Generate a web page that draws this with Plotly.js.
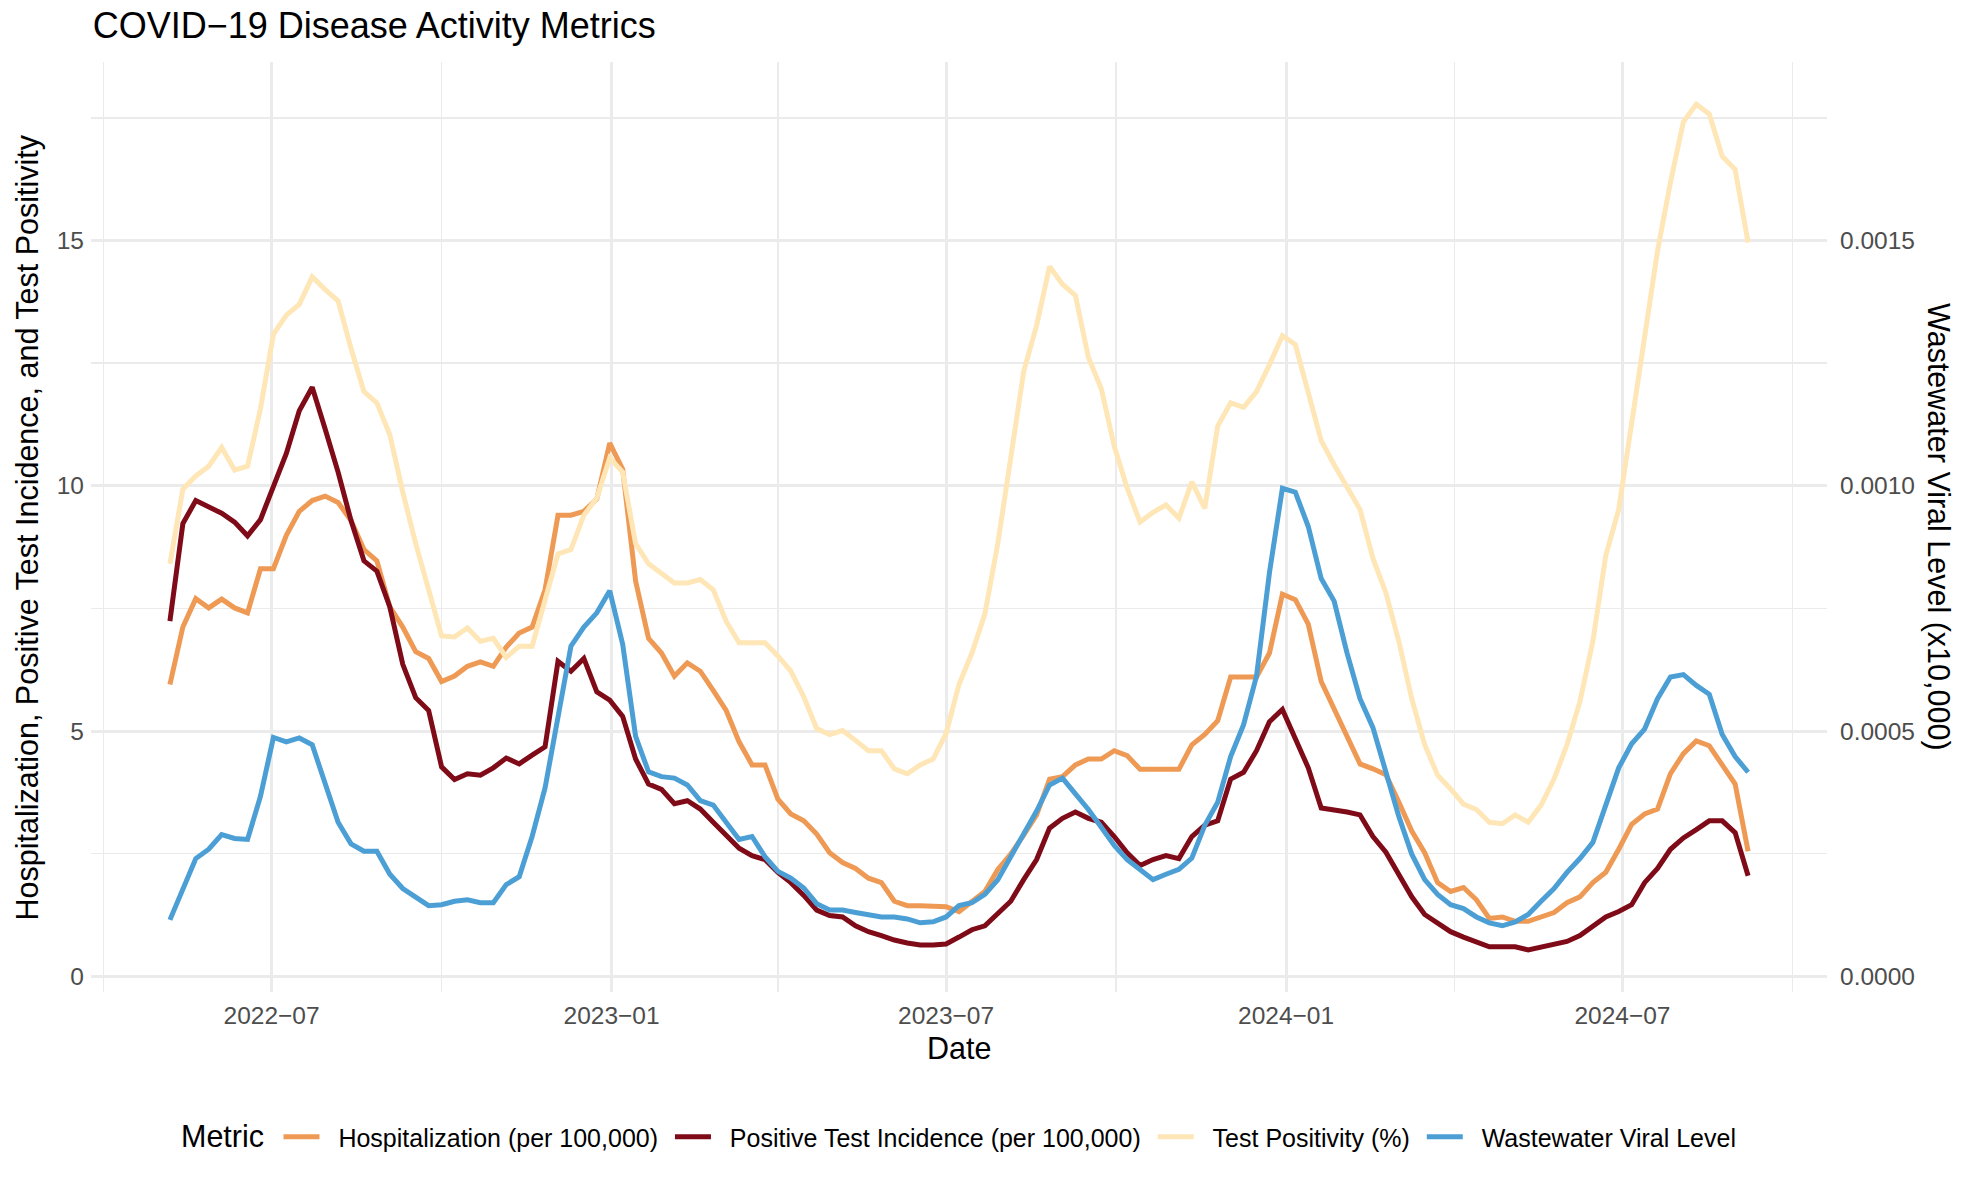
<!DOCTYPE html>
<html>
<head>
<meta charset="utf-8">
<script src="https://cdn.plot.ly/plotly-3.0.1.min.js"></script>
<style>
html, body { margin: 0; padding: 0; background: #ffffff; }
#chart { width: 1964px; height: 1189px; }
</style>
</head>
<body>
<div id="chart"></div>
<script>
// Weekly observation dates
const dates = [
 '2022-05-07','2022-05-14','2022-05-21','2022-05-28','2022-06-04','2022-06-11','2022-06-18','2022-06-25',
 '2022-07-02','2022-07-09','2022-07-16','2022-07-23','2022-07-30','2022-08-06','2022-08-13','2022-08-20','2022-08-27',
 '2022-09-03','2022-09-10','2022-09-17','2022-09-24','2022-10-01','2022-10-08','2022-10-15','2022-10-22','2022-10-29',
 '2022-11-05','2022-11-12','2022-11-19','2022-11-26','2022-12-03','2022-12-10','2022-12-17','2022-12-24','2022-12-31',
 '2023-01-07','2023-01-14','2023-01-21','2023-01-28','2023-02-04','2023-02-11','2023-02-18','2023-02-25',
 '2023-03-04','2023-03-11','2023-03-18','2023-03-25','2023-04-01','2023-04-08','2023-04-15','2023-04-22','2023-04-29',
 '2023-05-06','2023-05-13','2023-05-20','2023-05-27','2023-06-03','2023-06-10','2023-06-17','2023-06-24',
 '2023-07-01','2023-07-08','2023-07-15','2023-07-22','2023-07-29','2023-08-05','2023-08-12','2023-08-19','2023-08-26',
 '2023-09-02','2023-09-09','2023-09-16','2023-09-23','2023-09-30','2023-10-07','2023-10-14','2023-10-21','2023-10-28',
 '2023-11-04','2023-11-11','2023-11-18','2023-11-25','2023-12-02','2023-12-09','2023-12-16','2023-12-23','2023-12-30',
 '2024-01-06','2024-01-13','2024-01-20','2024-01-27','2024-02-03','2024-02-10','2024-02-17','2024-02-24',
 '2024-03-02','2024-03-09','2024-03-16','2024-03-23','2024-03-30','2024-04-06','2024-04-13','2024-04-20','2024-04-27',
 '2024-05-04','2024-05-11','2024-05-18','2024-05-25','2024-06-01','2024-06-08','2024-06-15','2024-06-22','2024-06-29',
 '2024-07-06','2024-07-13','2024-07-20','2024-07-27','2024-08-03','2024-08-10','2024-08-17','2024-08-24','2024-08-31',
 '2024-09-07'
];

// Hospitalization (per 100,000)
const hospitalization = [
 5.95, 7.12, 7.70, 7.51, 7.69, 7.51, 7.41, 8.31, 8.31, 8.99, 9.48, 9.70, 9.79, 9.66, 9.29, 8.70, 8.47, 7.53, 7.12, 6.62, 6.48, 6.01, 6.12, 6.32, 6.41,
 6.32, 6.71, 7.00, 7.12, 7.88, 9.40, 9.40, 9.48, 9.73, 10.87, 10.34, 8.06, 6.89, 6.59, 6.12, 6.39, 6.22, 5.83, 5.42, 4.78, 4.31, 4.31, 3.61, 3.31, 3.17,
 2.90, 2.52, 2.32, 2.20, 2.00, 1.91, 1.53, 1.44, 1.44, 1.44, 1.42, 1.32, 1.52, 1.73, 2.18, 2.49, 2.88, 3.29, 4.02, 4.07, 4.31, 4.43, 4.43, 4.60, 4.50,
 4.22, 4.22, 4.22, 4.22, 4.72, 4.93, 5.21, 6.10, 6.10, 6.10, 6.59, 7.79, 7.68, 7.18, 6.01, 5.46, 4.87, 4.33, 4.23, 4.11, 3.55, 2.96, 2.52, 1.91, 1.73,
 1.81, 1.56, 1.18, 1.21, 1.12, 1.12, 1.21, 1.30, 1.50, 1.62, 1.91, 2.12, 2.59, 3.10, 3.31, 3.41, 4.13, 4.54, 4.80, 4.70, 4.31, 3.92, 2.55
];

// Positive Test Incidence (per 100,000)
const positiveIncidence = [
 7.24, 9.23, 9.70, 9.58, 9.44, 9.26, 8.98, 9.31, 9.99, 10.66, 11.53, 12.01, 11.16, 10.28, 9.29, 8.47, 8.26, 7.53, 6.36, 5.68, 5.42, 4.27, 4.01, 4.13, 4.10,
 4.25, 4.45, 4.33, 4.51, 4.68, 6.42, 6.22, 6.48, 5.80, 5.63, 5.30, 4.43, 3.92, 3.81, 3.52, 3.58, 3.41, 3.14, 2.87, 2.61, 2.46, 2.38, 2.12, 1.91, 1.65,
 1.35, 1.24, 1.21, 1.03, 0.91, 0.83, 0.74, 0.68, 0.64, 0.64, 0.66, 0.80, 0.95, 1.03, 1.29, 1.53, 1.97, 2.38, 3.02, 3.22, 3.35, 3.22, 3.14, 2.85, 2.52,
 2.26, 2.38, 2.46, 2.40, 2.85, 3.08, 3.17, 4.02, 4.16, 4.60, 5.19, 5.44, 4.84, 4.25, 3.43, 3.40, 3.35, 3.29, 2.85, 2.53, 2.08, 1.62, 1.26, 1.07, 0.91,
 0.80, 0.71, 0.60, 0.60, 0.60, 0.54, 0.60, 0.66, 0.71, 0.83, 1.03, 1.21, 1.32, 1.46, 1.91, 2.20, 2.59, 2.82, 2.99, 3.17, 3.17, 2.93, 2.05
];

// Test Positivity (%)
const testPositivity = [
 8.41, 9.93, 10.20, 10.40, 10.78, 10.32, 10.40, 11.57, 13.09, 13.48, 13.70, 14.26, 14.00, 13.77, 12.80, 11.92, 11.69, 11.04, 9.87, 8.82, 7.88, 6.94, 6.92, 7.10, 6.83,
 6.89, 6.50, 6.73, 6.73, 7.65, 8.61, 8.70, 9.40, 9.75, 10.57, 10.28, 8.82, 8.41, 8.20, 8.02, 8.02, 8.09, 7.88, 7.24, 6.80, 6.80, 6.80, 6.53, 6.22, 5.70,
 5.05, 4.93, 5.01, 4.81, 4.60, 4.60, 4.23, 4.13, 4.31, 4.43, 4.95, 5.95, 6.59, 7.39, 8.82, 10.57, 12.33, 13.27, 14.47, 14.11, 13.88, 12.62, 11.98, 10.81, 9.95,
 9.26, 9.46, 9.61, 9.34, 10.08, 9.54, 11.22, 11.69, 11.60, 11.92, 12.47, 13.06, 12.88, 11.92, 10.92, 10.43, 9.96, 9.52, 8.52, 7.82, 6.83, 5.66, 4.72, 4.10, 3.82,
 3.51, 3.40, 3.14, 3.11, 3.29, 3.14, 3.49, 4.02, 4.72, 5.60, 6.83, 8.58, 9.52, 11.28, 13.03, 14.79, 16.19, 17.42, 17.78, 17.58, 16.72, 16.45, 14.96
];

// Wastewater Viral Level (original units, right axis)
const wastewater = [
 0.000115, 0.000177, 0.000240, 0.000259, 0.000289, 0.000281, 0.000279, 0.000367, 0.000487, 0.000478, 0.000486, 0.000472, 0.000390, 0.000314, 0.000270, 0.000255, 0.000255, 0.000208, 0.000179, 0.000162, 0.000144, 0.000146, 0.000153, 0.000156, 0.000150,
 0.000150, 0.000187, 0.000203, 0.000285, 0.000384, 0.000530, 0.000673, 0.000712, 0.000741, 0.000786, 0.000677, 0.000489, 0.000417, 0.000407, 0.000404, 0.000390, 0.000358, 0.000349, 0.000314, 0.000279, 0.000285, 0.000244, 0.000214, 0.000200, 0.000180,
 0.000148, 0.000135, 0.000135, 0.000130, 0.000126, 0.000121, 0.000121, 0.000117, 0.000109, 0.000111, 0.000121, 0.000144, 0.000150, 0.000167, 0.000197, 0.000244, 0.000290, 0.000337, 0.000390, 0.000404, 0.000372, 0.000340, 0.000304, 0.000267, 0.000238,
 0.000218, 0.000197, 0.000208, 0.000218, 0.000241, 0.000308, 0.000355, 0.000448, 0.000513, 0.000612, 0.000823, 0.000995, 0.000987, 0.000917, 0.000811, 0.000765, 0.000659, 0.000566, 0.000507, 0.000413, 0.000326, 0.000249, 0.000197, 0.000167, 0.000146,
 0.000138, 0.000121, 0.000109, 0.000103, 0.000111, 0.000126, 0.000153, 0.000179, 0.000212, 0.000240, 0.000273, 0.000349, 0.000425, 0.000474, 0.000504, 0.000566, 0.000610, 0.000615, 0.000593, 0.000575, 0.000493, 0.000448, 0.000416
];

const seriesNames = [
 'Hospitalization (per 100,000)',
 'Positive Test Incidence (per 100,000)',
 'Test Positivity (%)',
 'Wastewater Viral Level'
];
const seriesColors = ['#EE9A55', '#7E0B17', '#FEE6B7', '#4B9FD5'];

const FONT = 'Liberation Sans, Arial, Helvetica, sans-serif';
const GRID = '#EBEBEB';
const LW = 5;
const PRE = '\u00A0\u00A0'; // gap between legend key and label
const POST = '\u00A0';      // gap after label

const traces = [
 { x: dates, y: hospitalization, name: PRE + seriesNames[0] + POST, type: 'scatter', mode: 'lines',
   line: { color: seriesColors[0], width: LW }, yaxis: 'y' },
 { x: dates, y: positiveIncidence, name: PRE + seriesNames[1] + POST, type: 'scatter', mode: 'lines',
   line: { color: seriesColors[1], width: LW }, yaxis: 'y' },
 { x: dates, y: testPositivity, name: PRE + seriesNames[2] + POST, type: 'scatter', mode: 'lines',
   line: { color: seriesColors[2], width: LW }, yaxis: 'y' },
 { x: dates, y: wastewater, name: PRE + seriesNames[3] + POST, type: 'scatter', mode: 'lines',
   line: { color: seriesColors[3], width: LW }, yaxis: 'y2' }
];

const yMin = -0.32, yMax = 18.64, secScale = 10000;

const layout = {
 width: 1964, height: 1189,
 paper_bgcolor: '#ffffff', plot_bgcolor: '#ffffff',
 font: { family: FONT, color: '#000000' },
 margin: { l: 91, r: 137, t: 62, b: 197, pad: 0 },
 showlegend: true,
 title: {
   text: 'COVID\u221219 Disease Activity Metrics',
   font: { family: FONT, size: 36, color: '#000000' },
   xref: 'container', yref: 'container', x: 0.0472, xanchor: 'left', y: 0.979, yanchor: 'middle'
 },
 xaxis: {
   type: 'date',
   range: ['2022-03-25 07:00', '2024-10-19 17:00'],
   tick0: '2022-01-01', dtick: 'M6', tickformat: '%Y\u2212%m',
   showgrid: true, gridcolor: GRID, gridwidth: 3,
   minor: { dtick: 'M3', tick0: '2022-01-01', showgrid: true, gridcolor: GRID, gridwidth: 1.5 },
   zeroline: false, showline: false, ticks: '',
   tickfont: { family: FONT, size: 24.5, color: '#4D4D4D' },
   ticklabelstandoff: 6
 },
 yaxis: {
   range: [yMin, yMax], dtick: 5, tick0: 0,
   showgrid: true, gridcolor: GRID, gridwidth: 3,
   minor: { dtick: 2.5, tick0: 0, showgrid: true, gridcolor: GRID, gridwidth: 1.5 },
   zeroline: false, showline: false, ticks: '',
   tickfont: { family: FONT, size: 24.5, color: '#4D4D4D' },
   ticklabelstandoff: 6
 },
 yaxis2: {
   overlaying: 'y', side: 'right',
   range: [yMin / secScale, yMax / secScale], dtick: 0.0005, tick0: 0, tickformat: '.4f',
   showgrid: false, zeroline: false, showline: false, ticks: '',
   tickfont: { family: FONT, size: 24.5, color: '#4D4D4D' },
   ticklabelstandoff: 12
 },
 legend: {
   orientation: 'h', x: 0.108, xanchor: 'left', y: -0.156, yanchor: 'middle',
   font: { family: FONT, size: 25, color: '#000000' },
   itemwidth: 36, traceorder: 'normal', bgcolor: 'rgba(0,0,0,0)'
 },
 annotations: [
   { text: 'Metric', xref: 'paper', yref: 'paper', x: 0.0507, y: -0.1544, xanchor: 'left', yanchor: 'middle',
     showarrow: false, font: { family: FONT, size: 30.5, color: '#000000' } },
   { text: 'Date', xref: 'paper', yref: 'paper', x: 0.5, y: -0.0597, xanchor: 'center', yanchor: 'middle',
     showarrow: false, font: { family: FONT, size: 30.5, color: '#000000' } },
   { text: 'Hospitalization, Positive Test Incidence, and Test Positivity', xref: 'paper', yref: 'paper',
     x: -0.0366, y: 0.5, xanchor: 'center', yanchor: 'middle', textangle: -90,
     showarrow: false, font: { family: FONT, size: 30.5, color: '#000000' } },
   { text: 'Wastewater Viral Level (x10,000)', xref: 'paper', yref: 'paper',
     x: 1.0645, y: 0.5, xanchor: 'center', yanchor: 'middle', textangle: 90,
     showarrow: false, font: { family: FONT, size: 30.5, color: '#000000' } }
 ]
};

Plotly.newPlot('chart', traces, layout, { displayModeBar: false, staticPlot: true });
</script>
</body>
</html>
